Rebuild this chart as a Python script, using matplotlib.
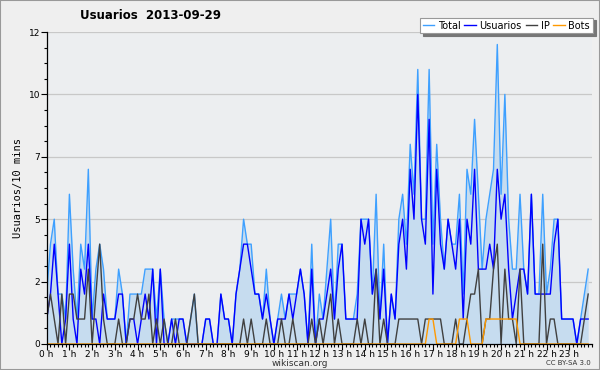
import matplotlib
matplotlib.use("Agg")
import matplotlib.pyplot as plt
import numpy as np

# one value per 10 minutes, 144 slots over the day
usuarios = [1, 2, 4, 2, 0, 1, 4, 1, 0, 3, 2, 4, 1, 1, 0, 2, 1, 1, 1,
            2, 2, 0, 1, 1, 0, 1, 2, 1, 3, 0, 3, 0, 0, 1, 0, 1, 1,
            0, 0, 0, 0, 0, 1, 1, 0, 0, 2, 1, 1, 0, 2, 3, 4, 4, 3,
            2, 2, 1, 2, 1, 0, 1, 1, 1, 2, 1, 2, 3, 2, 0, 3, 0, 1, 1,
            2, 3, 1, 3, 4, 1, 1, 1, 1, 5, 4, 5, 2, 3, 1, 3, 0, 2, 1,
            4, 5, 3, 7, 5, 10, 5, 4, 9, 2, 7, 4, 3, 5, 4, 3,
            5, 1, 5, 4, 7, 3, 3, 3, 4, 3, 7, 5, 6, 3, 1, 2,
            3, 3, 2, 6, 2, 2, 2, 2, 2, 4, 5, 1, 1, 1, 1, 0, 1, 1, 1]
ip = [1, 2, 1, 0, 2, 0, 2, 2, 1, 1, 1, 3, 0, 2, 4, 1, 0, 0, 0,
      1, 0, 0, 1, 1, 2, 1, 1, 2, 0, 1, 0, 1, 0, 0, 1, 0, 0,
      0, 1, 2, 0, 0, 0, 0, 0, 0, 0, 0, 0, 0, 0, 0, 1, 0, 1,
      0, 0, 0, 1, 0, 0, 0, 1, 0, 0, 1, 0, 0, 0, 0, 1, 0, 1, 0,
      1, 2, 0, 1, 0, 0, 0, 0, 1, 0, 1, 0, 0, 3, 0, 1, 0, 0, 0,
      1, 1, 1, 1, 1, 1, 0, 1, 1, 1, 1, 1, 0, 0, 0, 1,
      0, 0, 1, 2, 2, 3, 0, 1, 1, 3, 4, 0, 3, 1, 1, 0,
      3, 0, 0, 0, 0, 0, 4, 0, 1, 1, 0, 0, 0, 0, 0, 0, 0, 1, 2]
bots = [0, 0, 0, 0, 0, 0, 0, 0, 0, 0, 0, 0, 0, 0, 0, 0, 0, 0, 0,
        0, 0, 0, 0, 0, 0, 0, 0, 0, 0, 0, 0, 0, 0, 0, 0, 0, 0,
        0, 0, 0, 0, 0, 0, 0, 0, 0, 0, 0, 0, 0, 0, 0, 0, 0, 0,
        0, 0, 0, 0, 0, 0, 0, 0, 0, 0, 0, 0, 0, 0, 0, 0, 0, 0, 0,
        0, 0, 0, 0, 0, 0, 0, 0, 0, 0, 0, 0, 0, 0, 0, 0, 0, 0, 0,
        0, 0, 0, 0, 0, 0, 0, 0, 1, 1, 0, 0, 0, 0, 0, 0,
        1, 1, 1, 0, 0, 0, 0, 1, 1, 1, 1, 1, 1, 1, 1, 1,
        0, 0, 0, 0, 0, 0, 0, 0, 0, 0, 0, 0, 0, 0, 0, 0, 0, 0, 0]
total = [2, 4, 5, 2, 2, 1, 6, 3, 1, 4, 3, 7, 1, 3, 4, 3, 1, 1, 1,
         3, 2, 0, 2, 2, 2, 2, 3, 3, 3, 1, 3, 1, 0, 1, 1, 1, 1,
         0, 1, 2, 0, 0, 1, 1, 0, 0, 2, 1, 1, 0, 2, 3, 5, 4, 4,
         2, 2, 1, 3, 1, 0, 1, 2, 1, 2, 2, 2, 3, 2, 0, 4, 0, 2, 1,
         3, 5, 1, 4, 4, 1, 1, 1, 2, 5, 5, 5, 2, 6, 1, 4, 0, 2, 1,
         5, 6, 4, 8, 6, 11, 5, 5, 11, 4, 8, 5, 3, 5, 4, 4,
         6, 2, 7, 6, 9, 6, 3, 5, 6, 7, 12, 6, 10, 5, 3, 3,
         6, 3, 2, 6, 2, 2, 6, 2, 3, 5, 5, 1, 1, 1, 1, 0, 1, 2, 3]

hour_labels = [f"{h} h" for h in range(24)]
ytick_vals = [0, 2.5, 5, 7.5, 10, 12.5]
ytick_labels = ["0", "2", "5", "7", "10", "12"]

x = np.arange(len(total))

fig = plt.figure(figsize=(6, 3.7), dpi=100, facecolor="#efefef")
ax = fig.add_axes([0.0778, 0.0703, 0.9088, 0.8432])
ax.set_facecolor("#eceef0")

ax.fill_between(x, total, color="#c6dcef", lw=0)
ax.plot(x, total, color="#3ea0ff", lw=1, label="Total")
ax.plot(x, usuarios, color="#0000ff", lw=1, label="Usuarios")
ax.plot(x, ip, color="#404040", lw=1, label="IP")
ax.plot(x, bots, color="#ff9900", lw=1, label="Bots")

ax.set_xlim(0, 144)
ax.set_ylim(0, 12.5)
ax.set_yticks(ytick_vals)
ax.set_yticklabels(ytick_labels)
ax.set_yticks(np.arange(0, 12.5, 0.625), minor=True)
ax.set_xticks(np.arange(0, 144, 6))
ax.set_xticklabels(hour_labels)
ax.set_xticks(np.arange(0, 145, 1), minor=True)
ax.tick_params(axis="both", which="major", labelsize=6.5, length=4, width=0.8, pad=0.5, colors="#000000")
ax.tick_params(axis="both", which="minor", length=2.5, width=0.8)
ax.grid(axis="y", color="#c8c8c8", lw=0.9)
ax.set_axisbelow(True)
for s in ["top", "right"]:
    ax.spines[s].set_visible(False)
ax.spines["left"].set_linewidth(0.9)
ax.spines["bottom"].set_linewidth(0.9)

ax.set_ylabel("Usuarios/10 mins", fontsize=7.5, family="DejaVu Sans Mono", labelpad=4)

fig.text(0.25, 0.957, "Usuarios  2013-09-29", fontsize=8.5, fontweight="bold", ha="center", va="center")
fig.text(0.5, 0.018, "wikiscan.org", fontsize=6.5, ha="center", va="center", color="#333333")
fig.text(0.985, 0.02, "CC BY-SA 3.0", fontsize=5, ha="right", va="center", color="#333333")

leg = fig.legend(loc="upper right", bbox_to_anchor=(0.99, 0.955), ncol=4, fontsize=7,
                 handlelength=1.2, handletextpad=0.35, columnspacing=0.4,
                 borderpad=0.3, borderaxespad=0.1, fancybox=False,
                 shadow={"color": "#777777", "alpha": 1},
                 edgecolor="#999999", framealpha=1)
leg.get_frame().set_linewidth(0.8)

fig.patches.append(plt.Rectangle((0, 0), 1, 1, transform=fig.transFigure, fill=False,
                                 edgecolor="#999999", lw=1.5))

fig.savefig("out.png", dpi=100, facecolor=fig.get_facecolor())
